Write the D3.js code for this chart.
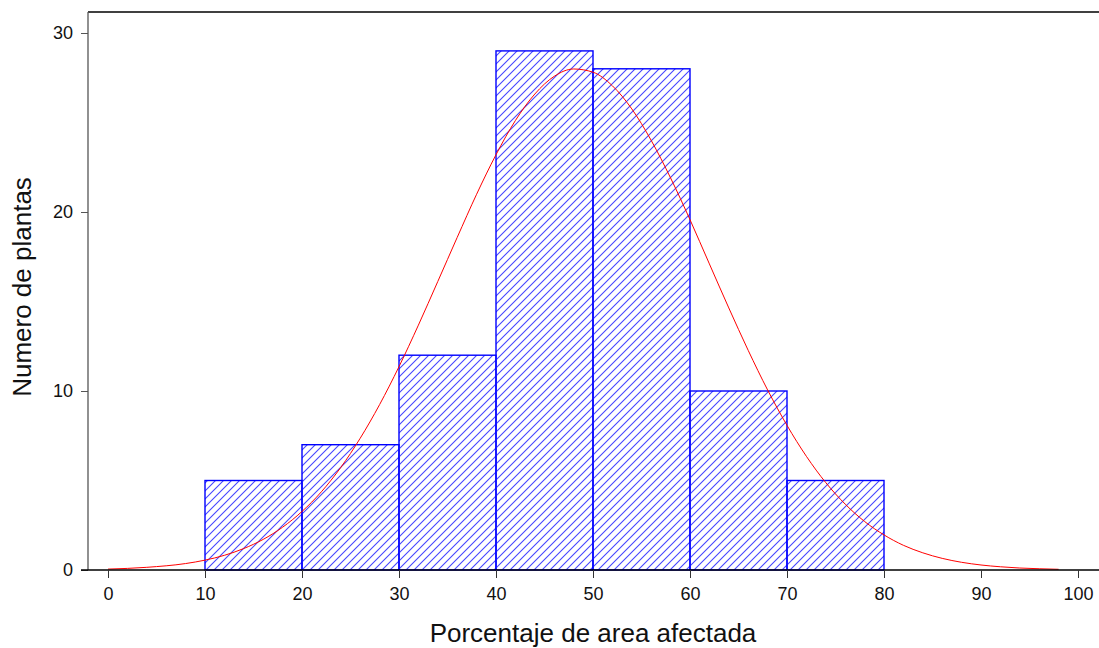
<!DOCTYPE html>
<html>
<head>
<meta charset="utf-8">
<script src="https://cdn.jsdelivr.net/npm/d3@7"></script>
<style>
    body { margin: 0; background: #fff; }
    text { font-family: "Liberation Sans", Arial, sans-serif; fill: #111; }
</style>
</head>
<body>
<svg id="chart" width="1099" height="648"></svg>
<script>
// histogram bins (lower edge, upper edge, count)
const binLo = [10, 20, 30, 40, 50, 60, 70];
const binHi = [20, 30, 40, 50, 60, 70, 80];
const counts = [5, 7, 12, 29, 28, 10, 5];

// fitted curve
const curveX = [0, 4, 8, 10, 12, 14, 16, 18, 20, 22, 24, 26, 28, 30, 32, 34, 36, 38, 40, 42, 44, 46, 48,
    50, 52, 54, 56, 58, 60, 62, 64, 66, 68, 70, 72, 74, 76, 78, 80, 82, 84, 86, 88, 90, 92, 94, 96, 98];
const curveY = [0.05, 0.15, 0.36, 0.55, 0.82, 1.2, 1.71, 2.39, 3.27, 4.37, 5.73, 7.36, 9.24, 11.36, 13.68,
    16.12, 18.58, 20.99, 23.2, 25.11, 26.59, 27.58, 27.99, 27.81, 27.05, 25.76, 24.0, 21.9, 19.57, 17.1,
    14.64, 12.27, 10.06, 8.08, 6.35, 4.88, 3.68, 2.71, 1.96, 1.38, 0.96, 0.65, 0.43, 0.28, 0.18, 0.11, 0.07, 0.04];

const xTicks = [0, 10, 20, 30, 40, 50, 60, 70, 80, 90, 100];
const yTicks = [0, 10, 20, 30];

const svg = d3.select("#chart");

const plotLeft = 88, plotTop = 12, plotBottom = 570, plotRight = 1099;

const x = d3.scaleLinear().domain([0, 100]).range([108, 1078]);
const y = d3.scaleLinear().domain([0, 30]).range([plotBottom, 33]);

// hatch pattern
const pat = svg.append("defs").append("pattern")
    .attr("id", "hatch")
    .attr("patternUnits", "userSpaceOnUse")
    .attr("width", 8)
    .attr("height", 8);
pat.append("path")
    .attr("d", "M-1,1 L1,-1 M0,8 L8,0 M7,9 L9,7")
    .attr("stroke", "#4646ff")
    .attr("stroke-width", 1.1);

// bars
const bars = binLo.map((lo, i) => ({lo: lo, hi: binHi[i], n: counts[i]}));
svg.append("g").selectAll("rect")
    .data(bars)
    .join("rect")
    .attr("x", d => x(d.lo))
    .attr("y", d => y(d.n))
    .attr("width", d => x(d.hi) - x(d.lo))
    .attr("height", d => y(0) - y(d.n))
    .attr("fill", "url(#hatch)")
    .attr("stroke", "#0000ff")
    .attr("stroke-width", 1.4);

// fitted curve
const pts = curveX.map((v, i) => [v, curveY[i]]);
svg.append("path")
    .datum(pts)
    .attr("fill", "none")
    .attr("stroke", "#ff0000")
    .attr("stroke-width", 1)
    .attr("d", d3.line().x(d => x(d[0])).y(d => y(d[1])).curve(d3.curveMonotoneX));

// frame: top line and left axis
svg.append("line")
    .attr("x1", plotLeft).attr("x2", plotRight)
    .attr("y1", plotTop).attr("y2", plotTop)
    .attr("stroke", "#000").attr("stroke-width", 1.3);

const yAxis = svg.append("g")
    .attr("transform", `translate(${plotLeft},0)`)
    .call(d3.axisLeft(y).tickValues(yTicks).tickSize(7).tickPadding(8).tickSizeOuter(0));
yAxis.select(".domain").attr("d", `M0,${plotTop}V${plotBottom}`).attr("stroke", "#555").attr("stroke-width", 1.3);
yAxis.selectAll(".tick line").attr("stroke", "#555");
yAxis.selectAll(".tick text").attr("font-size", 18).attr("font-family", "Liberation Sans, Arial, sans-serif").attr("fill", "#111");

const xAxis = svg.append("g")
    .attr("transform", `translate(0,${plotBottom})`)
    .call(d3.axisBottom(x).tickValues(xTicks).tickSize(8).tickPadding(9).tickSizeOuter(0));
xAxis.select(".domain").attr("d", `M81,0H${plotRight}`).attr("stroke", "#000").attr("stroke-width", 1.3);
xAxis.selectAll(".tick line").attr("stroke", "#333");
xAxis.selectAll(".tick text").attr("font-size", 18).attr("font-family", "Liberation Sans, Arial, sans-serif").attr("fill", "#111");

// axis titles
svg.append("text")
    .attr("x", 593)
    .attr("y", 642)
    .attr("text-anchor", "middle")
    .attr("font-size", 26)
    .text("Porcentaje de area afectada");

svg.append("text")
    .attr("transform", "translate(31,287) rotate(-90)")
    .attr("text-anchor", "middle")
    .attr("font-size", 26)
    .text("Numero de plantas");
</script>
</body>
</html>
